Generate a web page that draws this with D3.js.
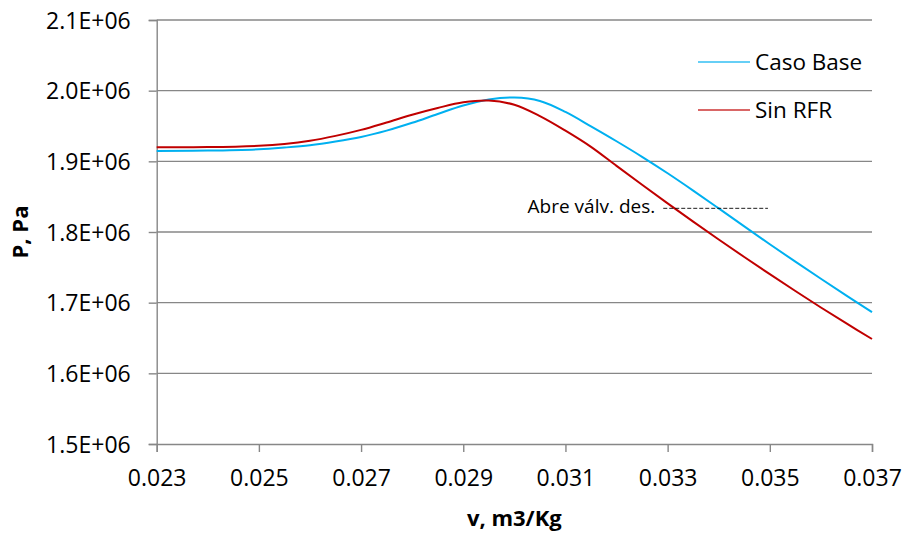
<!DOCTYPE html>
<html>
<head>
<meta charset="utf-8">
<script src="https://cdn.jsdelivr.net/npm/d3@7"></script>
<style>
  html, body { margin: 0; padding: 0; background: #fff; }
  svg { display: block; font-family: "Open Sans", sans-serif; }
</style>
</head>
<body>
<svg id="chart" width="904" height="535"></svg>
<script>
// ---------------- DATA ----------------
const vValues = [0.023, 0.024, 0.025, 0.0255, 0.026, 0.0265, 0.027, 0.0275, 0.028, 0.0285, 0.029, 0.0295, 0.030, 0.0305, 0.031, 0.0315, 0.032, 0.0325, 0.033, 0.0335, 0.034, 0.0345, 0.035, 0.0355, 0.036, 0.0365, 0.037];
const casoBase = [1.9148e6, 1.9152e6, 1.9170e6, 1.9195e6, 1.9228e6, 1.9280e6, 1.9345e6, 1.9435e6, 1.9545e6, 1.967e6, 1.979e6, 1.9875e6, 1.9903e6, 1.9855e6, 1.970e6, 1.9495e6, 1.9284e6, 1.9064e6, 1.8831e6, 1.8586e6, 1.8334e6, 1.8079e6, 1.7827e6, 1.758e6, 1.7338e6, 1.710e6, 1.6866e6];
const sinRFR   = [1.9200e6, 1.9202e6, 1.9220e6, 1.9245e6, 1.9290e6, 1.9360e6, 1.9445e6, 1.955e6, 1.966e6, 1.9755e6, 1.9835e6, 1.986e6, 1.980e6, 1.964e6, 1.9434e6, 1.9205e6, 1.8935e6, 1.8668e6, 1.8405e6, 1.8147e6, 1.7894e6, 1.7646e6, 1.7403e6, 1.7165e6, 1.6932e6, 1.6706e6, 1.6486e6];
const seriesNames = ["Caso Base", "Sin RFR"];
const seriesColors = ["#00B0F0", "#C00000"];
const xTicks = [0.023, 0.025, 0.027, 0.029, 0.031, 0.033, 0.035, 0.037];
const yTicks = [1.5e6, 1.6e6, 1.7e6, 1.8e6, 1.9e6, 2.0e6, 2.1e6];
const annotationText = "Abre válv. des.";
const annotationP = 1.8335e6;
const annotationV = [0.03311, 0.0351];
const xTitle = "v, m3/Kg";
const yTitle = "P, Pa";

// ---------------- CHART ----------------
const svg = d3.select("#chart");
const plot = { left: 156.7, right: 872, top: 20, bottom: 444 };

const x = d3.scaleLinear().domain([0.023, 0.037]).range([plot.left, plot.right]);
const y = d3.scaleLinear().domain([1.5e6, 2.1e6]).range([plot.bottom, plot.top]);

const gridColor = "#878787";

// horizontal gridlines
svg.append("g").selectAll("line").data(yTicks.filter(d => d > 1.5e6)).join("line")
  .attr("x1", plot.left).attr("x2", plot.right)
  .attr("y1", d => y(d)).attr("y2", d => y(d))
  .attr("stroke", gridColor).attr("stroke-width", 1.4);

// y axis
const yAxis = d3.axisLeft(y).tickValues(yTicks).tickSize(8).tickPadding(18)
  .tickFormat(d => (d / 1e6).toFixed(1) + "E+06");
const gy = svg.append("g").attr("transform", `translate(${plot.left},0)`).call(yAxis);
gy.select(".domain").attr("stroke", gridColor).attr("stroke-width", 1.4);
gy.selectAll(".tick line").attr("stroke", gridColor).attr("stroke-width", 1.4);
gy.selectAll(".tick text").attr("font-size", 23).attr("fill", "#000")
  .attr("font-family", "Open Sans").attr("dy", "0.36em");

// x axis
const xAxis = d3.axisBottom(x).tickValues(xTicks).tickSize(8).tickPadding(18)
  .tickFormat(d3.format(".3f"));
const gx = svg.append("g").attr("transform", `translate(0,${plot.bottom})`).call(xAxis);
gx.select(".domain").attr("stroke", gridColor).attr("stroke-width", 1.4);
gx.selectAll(".tick line").attr("stroke", gridColor).attr("stroke-width", 1.4);
gx.selectAll(".tick text").attr("font-size", 23).attr("fill", "#000")
  .attr("font-family", "Open Sans");

// series lines
const seriesData = [casoBase, sinRFR];
const line = d3.line().x(d => x(d[0])).y(d => y(d[1])).curve(d3.curveCatmullRom.alpha(0.5));
seriesData.forEach((vals, i) => {
  svg.append("path")
    .datum(vValues.map((v, j) => [v, vals[j]]))
    .attr("fill", "none")
    .attr("stroke", seriesColors[i])
    .attr("stroke-width", 2)
    .attr("d", line);
});

// annotation
svg.append("line")
  .attr("x1", x(annotationV[0]) - 10).attr("x2", x(annotationV[1]) - 7)
  .attr("y1", y(annotationP)).attr("y2", y(annotationP))
  .attr("stroke", "#000").attr("stroke-width", 0.9).attr("stroke-dasharray", "4,2");
svg.append("text")
  .attr("x", x(annotationV[0]) - 18).attr("y", y(annotationP) + 5)
  .attr("text-anchor", "end").attr("font-size", 19).attr("fill", "#000")
  .text(annotationText);

// legend
const legendY = [62, 110];
seriesNames.forEach((name, i) => {
  svg.append("line")
    .attr("x1", 698).attr("x2", 750)
    .attr("y1", legendY[i]).attr("y2", legendY[i])
    .attr("stroke", seriesColors[i]).attr("stroke-width", 1.3).attr("opacity", 0.8);
  svg.append("text")
    .attr("x", 755).attr("y", legendY[i]).attr("dy", "0.35em")
    .attr("font-size", 22.5).attr("fill", "#000")
    .text(name);
});

// axis titles
svg.append("text")
  .attr("x", (plot.left + plot.right) / 2).attr("y", 526)
  .attr("text-anchor", "middle").attr("font-size", 22).attr("font-weight", "bold")
  .text(xTitle);
svg.append("text")
  .attr("transform", `translate(28,${(plot.top + plot.bottom) / 2}) rotate(-90)`)
  .attr("text-anchor", "middle").attr("font-size", 22).attr("font-weight", "bold")
  .text(yTitle);
</script>
</body>
</html>
